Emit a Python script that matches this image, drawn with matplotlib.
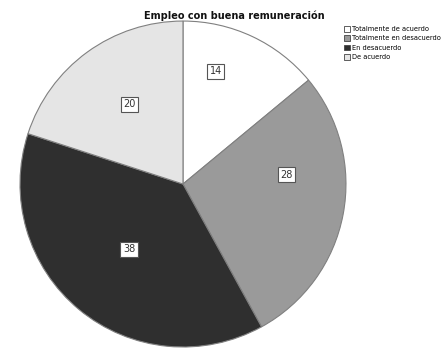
import numpy as np
import matplotlib
matplotlib.use("Agg")
import matplotlib.pyplot as plt
from matplotlib.patches import Patch

categories = ["Totalmente de acuerdo", "Totalmente en desacuerdo", "En desacuerdo", "De acuerdo"]
values = [14, 28, 38, 20]
colors = ["#ffffff", "#9a9a9a", "#2f2f2f", "#e5e5e5"]

# label placement (radius as fraction of pie radius, angle shift in degrees)
label_r = [0.72, 0.64, 0.52, 0.59]
label_shift = [9, 16, 0, -2]

fig = plt.figure(figsize=(4.46, 3.52), dpi=100)
ax = fig.add_axes([0.0448, 0.0142, 0.731, 0.926])

wedges, _ = ax.pie(values, colors=colors, startangle=90, counterclock=False,
                   wedgeprops=dict(edgecolor="#808080", linewidth=0.8))
ax.set_xlim(-1, 1)
ax.set_ylim(-1, 1)
ax.set_aspect("equal")

for w, v, r, s in zip(wedges, values, label_r, label_shift):
    mid = np.deg2rad((w.theta1 + w.theta2) / 2 + s)
    ax.text(r * np.cos(mid), r * np.sin(mid), str(v), ha="center", va="center",
            fontsize=7, color="#333333",
            bbox=dict(boxstyle="square,pad=0.25", fc="white", ec="#555555", lw=0.8))

fig.text(234 / 446, 1 - 16 / 352, "Empleo con buena remuneración", ha="center", va="center",
         fontsize=7, fontweight="bold", color="#111111")

handles = [Patch(facecolor=c, edgecolor="#444444", linewidth=0.6) for c in colors]
fig.legend(handles, categories, loc="upper left", bbox_to_anchor=(344 / 446, 1 - 26 / 352),
           frameon=False, fontsize=4.8, handlelength=0.9, handleheight=0.9,
           handletextpad=0.3, labelspacing=0.5, borderpad=0, borderaxespad=0)

fig.savefig("out.png", dpi=100)
